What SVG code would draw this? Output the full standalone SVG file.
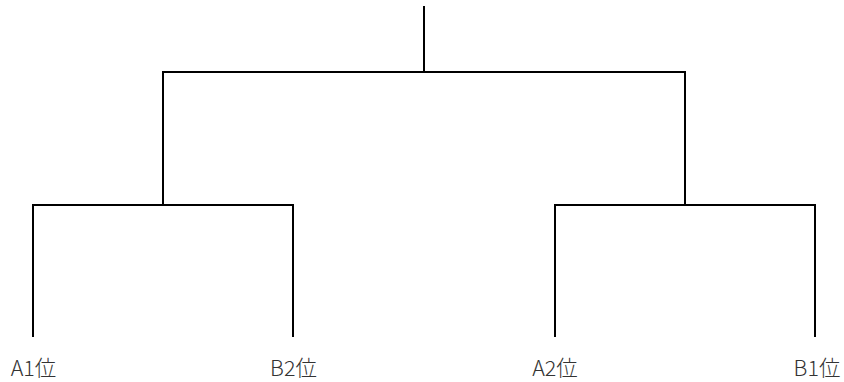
<svg xmlns="http://www.w3.org/2000/svg" width="844" height="382" viewBox="0 0 844 382">
<style>
.c{fill:none;stroke:#000;stroke-width:2;stroke-linecap:square}
.t{font-family:"Noto Sans CJK JP","Noto Sans",sans-serif;font-size:21.5px;font-weight:300;fill:#333;text-anchor:middle}
</style>
<rect width="844" height="382" fill="#fff"/>
<g id="connectors">
<path class="c" d="M424 7V72M163 72H685M163 72V205M685 72V205M33 205H293M33 205V336M293 205V336M555 205H815M555 205V336M815 205V336"/>
</g>
<g id="n-a1"><text class="t" x="33.5" y="376">A1位</text></g>
<g id="n-b2"><text class="t" x="293.5" y="376">B2位</text></g>
<g id="n-a2"><text class="t" x="555" y="376">A2位</text></g>
<g id="n-b1"><text class="t" x="817" y="376">B1位</text></g>
</svg>
